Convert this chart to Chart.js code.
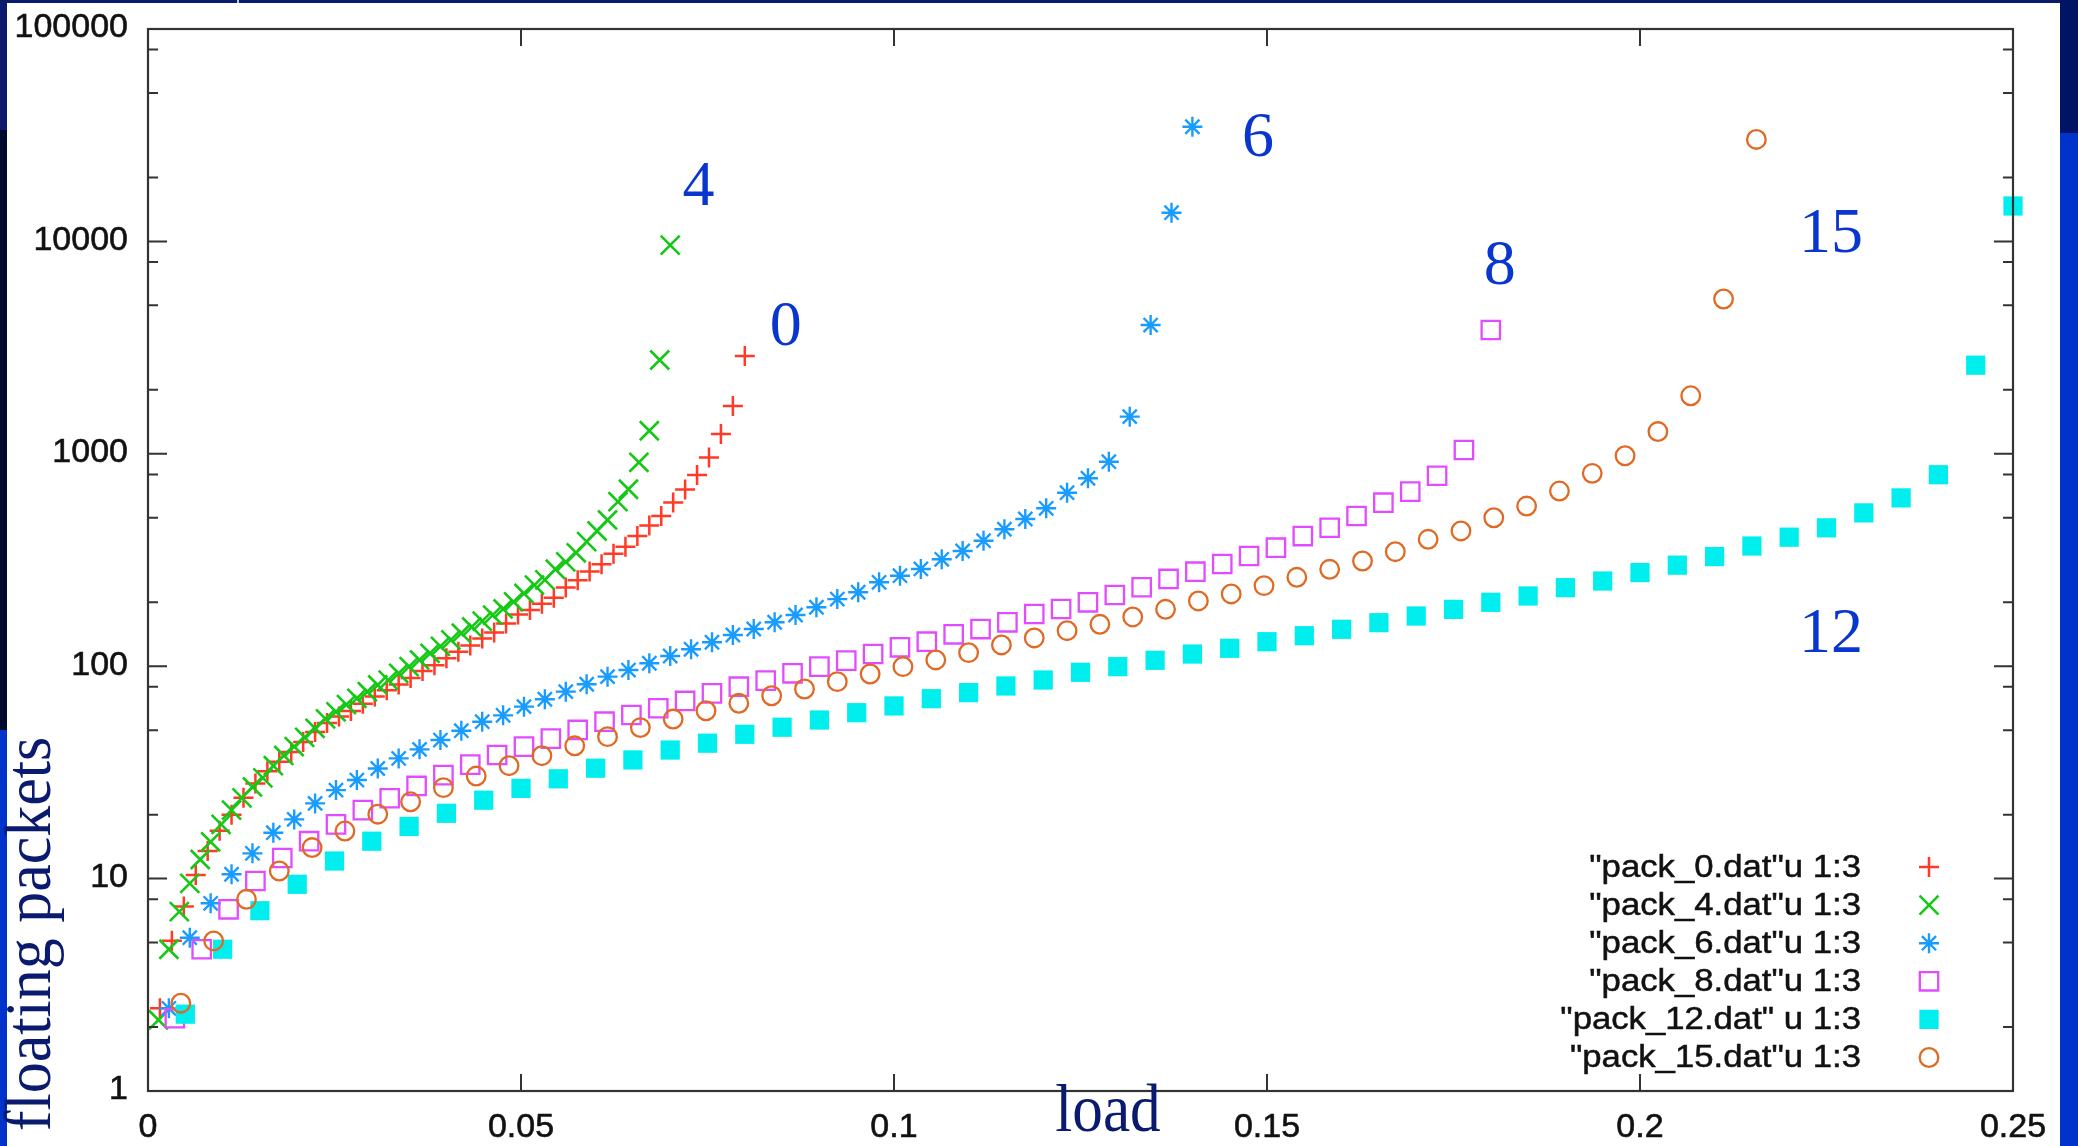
<!DOCTYPE html>
<html><head><meta charset="utf-8">
<script src="https://cdn.jsdelivr.net/npm/chart.js@4.4.1/dist/chart.umd.min.js"></script>
<style>html,body{margin:0;padding:0;background:#fff;overflow:hidden}canvas{display:block}</style>
</head><body><canvas id="c" width="2078" height="1146"></canvas>
<script>
// ---- data ----
const seriesNames = ['"pack_0.dat"u 1:3', '"pack_4.dat"u 1:3', '"pack_6.dat"u 1:3', '"pack_8.dat"u 1:3', '"pack_12.dat" u 1:3', '"pack_15.dat"u 1:3'];
const curveLabels = ['0', '4', '6', '8', '12', '15'];

const load0 = [0.0016,0.0032,0.0048,0.0064,0.008,0.0096,0.0112,0.0128,0.0144,0.016,0.0176,0.0192,0.0208,0.0224,0.024,0.0256,0.0272,0.0288,0.0304,0.032,0.0336,0.0352,0.0368,0.0384,0.04,0.0416,0.0432,0.0448,0.0464,0.048,0.0496,0.0512,0.0528,0.0544,0.056,0.0576,0.0592,0.0608,0.0624,0.064,0.0656,0.0672,0.0688,0.0704,0.072,0.0736,0.0752,0.0768,0.0784,0.08];
const pack0 = [2.45,5.1,7.4,10.4,13.5,16.8,20,24,28,32,35.5,39.5,44,49,54,58,61.5,66.5,72,77,82,88,95,101,109,117,125,135,144,159,175,184,197,210,235,254,279,302,338,365,410,460,510,590,680,795,960,1240,1679,2886];

const load4 = [0.0014,0.0028,0.0042,0.0056,0.007,0.0084,0.0098,0.0112,0.0126,0.014,0.0154,0.0168,0.0182,0.0196,0.021,0.0224,0.0238,0.0252,0.0266,0.028,0.0294,0.0308,0.0322,0.0336,0.035,0.0364,0.0378,0.0392,0.0406,0.042,0.0434,0.0448,0.0462,0.0476,0.049,0.0504,0.0518,0.0532,0.0546,0.056,0.0574,0.0588,0.0602,0.0616,0.063,0.0644,0.0658,0.0672,0.0686,0.07];
const pack4 = [2.16,4.65,6.99,9.5,12.3,14.9,18,21,24,27,29.8,34,38,41.8,46.2,51,56.5,61,66,70.6,75.8,81.6,86,92.6,99.5,107,115,124,133,143,153,163,174,186,201,220,241,255,286,310,342,386,433,488,595,681,912,1284,2765,9600];

const load6 = [0.0028,0.0056,0.0084,0.0112,0.014,0.0168,0.0196,0.0224,0.0252,0.028,0.0308,0.0336,0.0364,0.0392,0.042,0.0448,0.0476,0.0504,0.0532,0.056,0.0588,0.0616,0.0644,0.0672,0.07,0.0728,0.0756,0.0784,0.0812,0.084,0.0868,0.0896,0.0924,0.0952,0.098,0.1008,0.1036,0.1064,0.1092,0.112,0.1148,0.1176,0.1204,0.1232,0.126,0.1288,0.1316,0.1344,0.1372,0.14];
const pack6 = [2.45,5.27,7.65,10.48,13.15,16.45,19.0,22.6,26.1,29.1,33.0,36.8,40.6,44.9,49.7,54.8,58.7,64.5,69.9,75.9,82.2,89.3,95.9,103.2,111.7,120.2,129.6,140.3,149.6,161,174.2,189.4,207,222.9,248.3,266.8,287,318.6,348.7,389.9,441.5,493,553.8,656,767,918,1496,4037,13650,34670];

const load8 = [0.0036,0.0072,0.0108,0.0144,0.018,0.0216,0.0252,0.0288,0.0324,0.036,0.0396,0.0432,0.0468,0.0504,0.054,0.0576,0.0612,0.0648,0.0684,0.072,0.0756,0.0792,0.0828,0.0864,0.09,0.0936,0.0972,0.1008,0.1044,0.108,0.1116,0.1152,0.1188,0.1224,0.126,0.1296,0.1332,0.1368,0.1404,0.144,0.1476,0.1512,0.1548,0.1584,0.162,0.1656,0.1692,0.1728,0.1764,0.18];
const pack8 = [2.20,4.65,7.17,9.74,12.5,15.0,18.0,21.0,23.9,27.3,30.7,34.4,38.2,41.8,45.6,50.1,54.8,58.9,63.4,68.6,74.5,80.1,85.5,92.6,99.5,106.2,114.1,122.7,130.4,141.3,149.6,160.9,176.1,185.9,199.9,216.4,235.3,257.5,278.6,302.9,330.3,361.3,410,448.7,509.5,588.7,663.5,788.5,1042,3828];

const load12 = [0.005,0.01,0.015,0.02,0.025,0.03,0.035,0.04,0.045,0.05,0.055,0.06,0.065,0.07,0.075,0.08,0.085,0.09,0.095,0.1,0.105,0.11,0.115,0.12,0.125,0.13,0.135,0.14,0.145,0.15,0.155,0.16,0.165,0.17,0.175,0.18,0.185,0.19,0.195,0.2,0.205,0.21,0.215,0.22,0.225,0.23,0.235,0.24,0.245,0.25];
const pack12 = [2.3,4.65,7.06,9.4,12.1,15.0,17.6,20.3,23.4,26.6,29.5,33.1,36.2,40.3,43.4,47.8,51.6,55.8,60.4,65.0,70.3,75.1,80.7,86.1,93.6,99.5,106.6,114.1,121.4,130.4,139.2,149.2,160.3,172.3,185.2,199.9,214.1,234.3,251.8,276,299,328,368,405,448,527,620,797,2613,14680];

const load15 = [0.0044,0.0088,0.0132,0.0176,0.022,0.0264,0.0308,0.0352,0.0396,0.044,0.0484,0.0528,0.0572,0.0616,0.066,0.0704,0.0748,0.0792,0.0836,0.088,0.0924,0.0968,0.1012,0.1056,0.11,0.1144,0.1188,0.1232,0.1276,0.132,0.1364,0.1408,0.1452,0.1496,0.154,0.1584,0.1628,0.1672,0.1716,0.176,0.1804,0.1848,0.1892,0.1936,0.198,0.2024,0.2068,0.2112,0.2156];
const pack15 = [2.59,5.09,7.99,10.86,14.0,16.75,20.1,23.0,26.8,30.4,34.0,37.9,42.2,46.6,51.4,56.4,61.7,66.9,72.6,78.1,84.6,91.9,99.5,107,115.8,125.9,135.8,146.9,157.5,170.5,185.3,202.8,218.8,239.4,262.2,285.9,312.8,346,395.7,433.2,500,567.7,668,809,979,1273,1876,5355,30200];

const xTickValues = [0, 0.05, 0.1, 0.15, 0.2, 0.25];
const xTickLabels = ['0', '0.05', '0.1', '0.15', '0.2', '0.25'];
const yTickValues = [1, 10, 100, 1000, 10000, 100000];
const yTickLabels = ['1', '10', '100', '1000', '10000', '100000'];
const yMinorMultipliers = [2, 5, 8];
const xTitle = 'load';
const yTitle = 'floating packets';

// ---- styles ----
const loads = [load0, load4, load6, load8, load12, load15];
const values = [pack0, pack4, pack6, pack8, pack12, pack15];
const styles = [
  {pointStyle:'cross',    radius:10,   color:'#ff3a26', fill:false, bw:2.5},
  {pointStyle:'crossRot', radius:13.4, color:'#16c816', fill:false, bw:2.6},
  {pointStyle:'star',     radius:10,   color:'#1a9cff', fill:false, bw:2.4},
  {pointStyle:'rect',     radius:13,   color:'#e24cff', fill:false, bw:2.3},
  {pointStyle:'rect',     radius:13.6, color:'#00eeee', fill:true,  bw:0},
  {pointStyle:'circle',   radius:9.3,  color:'#e06a24', fill:false, bw:2.3}
];
const labelPos = [ // curve label baselines, in data coords
  {x:0.0855, y:3250}, {x:0.0738, y:14800}, {x:0.1488, y:25200}, {x:0.1812, y:6300}, {x:0.2256, y:117}, {x:0.2256, y:8900}
];

const datasets = values.map((vals, k) => ({
  label: seriesNames[k],
  data: vals.map((v, i) => ({x: loads[k][i], y: v})),
  pointStyle: styles[k].pointStyle,
  pointRadius: styles[k].radius,
  pointBorderColor: styles[k].color,
  pointBackgroundColor: styles[k].fill ? styles[k].color : 'rgba(0,0,0,0)',
  pointBorderWidth: styles[k].bw,
  showLine: false,
  clip: false,
  order: values.length - k
}));

const bgPlugin = {
  id: 'bg',
  beforeDraw(chart) {
    const c = chart.ctx;
    c.save();
    c.fillStyle = '#0b1a6c'; c.fillRect(0, 0, 2078, 1146);
    c.fillStyle = '#000a2e'; c.fillRect(0, 130, 7, 600);
    c.fillStyle = '#0033cc'; c.fillRect(0, 730, 7, 416);
    c.fillStyle = '#001466'; c.fillRect(2060, 0, 18, 133);
    c.fillStyle = '#0033cc'; c.fillRect(2060, 133, 18, 1013);
    c.fillStyle = '#ffffff'; c.fillRect(7, 3, 2053, 1143);
    c.fillStyle = '#c8c8d8'; c.fillRect(237, 0, 2, 3);
    c.restore();
  }
};

function heavyText(c, txt, x, y) {
  c.fillText(txt, x, y);
  c.strokeText(txt, x, y);
}

const framePlugin = {
  id: 'frame',
  afterDatasetsDraw(chart) {
    const c = chart.ctx, a = chart.chartArea;
    const xs = chart.scales.x, ys = chart.scales.y;
    c.save();
    c.strokeStyle = '#333333'; c.lineWidth = 2.2;
    c.strokeRect(a.left, a.top, a.right - a.left, a.bottom - a.top);
    c.lineWidth = 2;
    c.beginPath();
    yTickValues.forEach((v, i) => {
      const y = ys.getPixelForValue(v);
      c.moveTo(a.left, y); c.lineTo(a.left + 19, y);
      c.moveTo(a.right, y); c.lineTo(a.right - 19, y);
      if (i < yTickValues.length - 1) {
        yMinorMultipliers.forEach(m => {
          const ym = ys.getPixelForValue(v * m);
          c.moveTo(a.left, ym); c.lineTo(a.left + 10, ym);
          c.moveTo(a.right, ym); c.lineTo(a.right - 10, ym);
        });
      }
    });
    xTickValues.forEach(v => {
      const x = xs.getPixelForValue(v);
      c.moveTo(x, a.bottom); c.lineTo(x, a.bottom - 17);
      c.moveTo(x, a.top); c.lineTo(x, a.top + 17);
    });
    c.stroke();

    // tick labels
    c.font = '34px "Liberation Sans", Arial, sans-serif';
    c.fillStyle = '#111111'; c.strokeStyle = '#111111'; c.lineWidth = 0.6;
    c.textAlign = 'right'; c.textBaseline = 'middle';
    yTickValues.forEach((v, i) => heavyText(c, yTickLabels[i], 128, ys.getPixelForValue(v) - 1));
    c.textAlign = 'center'; c.textBaseline = 'middle';
    xTickValues.forEach((v, i) => heavyText(c, xTickLabels[i], xs.getPixelForValue(v), 1128));

    // legend
    const helpers = Chart.helpers;
    chart.data.datasets.forEach((ds, k) => {
      const ty = 867 + k * 38.1;
      c.save();
      c.font = '31px "Liberation Sans", Arial, sans-serif';
      c.fillStyle = '#111111'; c.strokeStyle = '#111111'; c.lineWidth = 0.5;
      c.textAlign = 'right'; c.textBaseline = 'middle';
      c.translate(1861, ty + 1); c.scale(1.12, 1);
      heavyText(c, ds.label, 0, 0);
      c.restore();
      c.save();
      c.strokeStyle = ds.pointBorderColor; c.fillStyle = ds.pointBackgroundColor;
      c.lineWidth = ds.pointBorderWidth || 0;
      helpers.drawPoint(c, {pointStyle: ds.pointStyle, radius: ds.pointRadius, rotation: 0, borderWidth: ds.pointBorderWidth}, 1929, ty);
      c.restore();
    });

    // curve labels
    c.font = '64px "Liberation Serif", "Times New Roman", serif';
    c.fillStyle = '#0836cf'; c.textAlign = 'center'; c.textBaseline = 'alphabetic';
    labelPos.forEach((p, k) => {
      c.fillText(curveLabels[k], xs.getPixelForValue(p.x), ys.getPixelForValue(p.y));
    });

    // axis titles
    c.fillStyle = '#0a1a6e';
    c.save();
    c.font = '68px "Liberation Serif", "Times New Roman", serif';
    c.translate(1108, 1131); c.scale(0.9, 1);
    c.textAlign = 'center'; c.fillText(xTitle, 0, 0);
    c.restore();
    c.save();
    c.font = '66px "Liberation Serif", "Times New Roman", serif';
    c.translate(50, 934); c.rotate(-Math.PI / 2); c.scale(0.94, 1);
    c.textAlign = 'center'; c.fillText(yTitle, 0, 0);
    c.restore();
    c.restore();
  }
};

new Chart(document.getElementById('c'), {
  type: 'scatter',
  data: {datasets},
  options: {
    responsive: false, animation: false, devicePixelRatio: 1, events: [],
    layout: {padding: {top: 29, right: 65, left: 0, bottom: 0}},
    plugins: {legend: {display: false}, tooltip: {enabled: false}},
    scales: {
      x: {
        type: 'linear', min: 0, max: 0.25,
        afterBuildTicks: s => { s.ticks = xTickValues.map(v => ({value: v})); },
        afterFit: s => { s.height = 55; },
        ticks: {display: false},
        grid: {display: false, drawTicks: false}, border: {display: false}
      },
      y: {
        type: 'logarithmic', min: 1, max: 100000,
        afterBuildTicks: s => { s.ticks = yTickValues.map(v => ({value: v})); },
        afterFit: s => { s.width = 148; },
        ticks: {display: false},
        grid: {display: false, drawTicks: false}, border: {display: false}
      }
    }
  },
  plugins: [bgPlugin, framePlugin]
});
</script></body></html>
